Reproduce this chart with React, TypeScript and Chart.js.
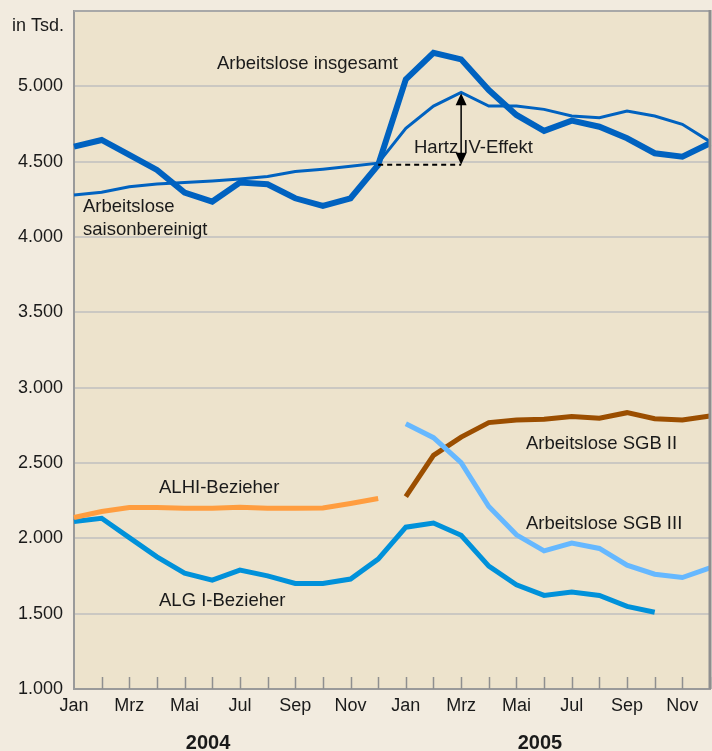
import React, { useEffect, useRef } from "react";
import { Chart, registerables } from "chart.js";

Chart.register(...registerables);

const months = ["Jan", "Feb", "Mrz", "Apr", "Mai", "Jun", "Jul", "Aug", "Sep", "Okt", "Nov", "Dez",
  "Jan", "Feb", "Mrz", "Apr", "Mai", "Jun", "Jul", "Aug", "Sep", "Okt", "Nov", "Dez"];
const years = ["2004", "2005"];
const yearCenters = [4.85, 16.85];

const insgesamt = [4600, 4644, 4545, 4445, 4295, 4235, 4361, 4350, 4257, 4206, 4257, 4478,
  5046, 5223, 5179, 4975, 4810, 4704, 4772, 4732, 4655, 4556, 4533, 4622];
const saisonbereinigt = [4279, 4297, 4334, 4352, 4361, 4372, 4385, 4401, 4434, 4450, 4470, 4490,
  4721, 4869, 4960, 4869, 4869, 4847, 4803, 4792, 4836, 4803, 4748, 4633];
const alhi = [2138, 2178, 2204, 2204, 2200, 2200, 2206, 2200, 2200, 2202, 2231, 2264,
  null, null, null, null, null, null, null, null, null, null, null, null];
const algI = [2112, 2133, 2005, 1877, 1769, 1723, 1789, 1751, 1701, 1701, 1730, 1862,
  2074, 2102, 2020, 1816, 1692, 1621, 1643, 1621, 1548, 1509, null, null];
const sgbII = [null, null, null, null, null, null, null, null, null, null, null, null,
  2277, 2551, 2672, 2768, 2785, 2790, 2808, 2797, 2834, 2794, 2785, 2812];
const sgbIII = [null, null, null, null, null, null, null, null, null, null, null, null,
  2761, 2668, 2503, 2211, 2023, 1917, 1968, 1933, 1822, 1762, 1740, 1804];

const hartzFrom = 11;
const hartzAt = 14;
const hartzBase = 4480;
const hartzTop = 4960;

const OUTER_BG = "#f2ebdf";
const PLOT_BG = "#ede3cc";
const TEXT = "#1a1a1a";
const FONT = '"Liberation Sans", Arial, Helvetica, sans-serif';

const overlay = {
  id: "overlay",
  beforeDraw(chart: any) {
    const { ctx, chartArea: a } = chart;
    ctx.save();
    ctx.fillStyle = PLOT_BG;
    ctx.fillRect(a.left, a.top, a.right - a.left, a.bottom - a.top);
    ctx.restore();
  },
  afterDraw(chart: any) {
    const { ctx, chartArea: a, scales } = chart;
    const xs = scales.x;
    const ys = scales.y;
    ctx.save();
    // inside tick marks
    ctx.strokeStyle = "#8f8f8f";
    ctx.lineWidth = 1.5;
    ctx.beginPath();
    for (let i = 1; i < months.length; i++) {
      const px = Math.round(xs.getPixelForValue(i)) + 0.5;
      ctx.moveTo(px, a.bottom);
      ctx.lineTo(px, a.bottom - 12);
    }
    ctx.stroke();
    // top & right border
    ctx.strokeStyle = "#a8a8a8";
    ctx.lineWidth = 2;
    ctx.beginPath();
    ctx.moveTo(a.left, a.top);
    ctx.lineTo(a.right, a.top);
    ctx.stroke();
    ctx.strokeStyle = "#8f8f8f";
    ctx.lineWidth = 3;
    ctx.beginPath();
    ctx.moveTo(a.right, a.top - 1);
    ctx.lineTo(a.right, a.bottom);
    ctx.stroke();

    // Hartz IV effect: dashed baseline and double arrow
    const yb = ys.getPixelForValue(hartzBase);
    const yt = ys.getPixelForValue(hartzTop);
    const x0 = xs.getPixelForValue(hartzFrom);
    const xa = xs.getPixelForValue(hartzAt);
    ctx.strokeStyle = "#000";
    ctx.lineWidth = 2;
    ctx.setLineDash([5, 4]);
    ctx.beginPath();
    ctx.moveTo(x0, yb);
    ctx.lineTo(xa, yb);
    ctx.stroke();
    ctx.setLineDash([]);
    ctx.lineWidth = 1.5;
    ctx.beginPath();
    ctx.moveTo(xa, yt + 10);
    ctx.lineTo(xa, yb - 10);
    ctx.stroke();
    ctx.fillStyle = "#000";
    ctx.beginPath();
    ctx.moveTo(xa, yt + 1);
    ctx.lineTo(xa - 5.5, yt + 13);
    ctx.lineTo(xa + 5.5, yt + 13);
    ctx.closePath();
    ctx.fill();
    ctx.beginPath();
    ctx.moveTo(xa, yb);
    ctx.lineTo(xa - 5.5, yb - 12);
    ctx.lineTo(xa + 5.5, yb - 12);
    ctx.closePath();
    ctx.fill();

    // annotation texts
    ctx.fillStyle = TEXT;
    ctx.font = `18.5px ${FONT}`;
    ctx.textAlign = "left";
    ctx.textBaseline = "alphabetic";
    ctx.fillText("Arbeitslose insgesamt", 217, 69);
    ctx.fillText("Arbeitslose", 83, 212);
    ctx.fillText("saisonbereinigt", 83, 235);
    ctx.fillText("Hartz IV-Effekt", 414, 153);
    ctx.fillText("ALHI-Bezieher", 159, 493);
    ctx.fillText("ALG I-Bezieher", 159, 606);
    ctx.fillText("Arbeitslose SGB II", 526, 449);
    ctx.fillText("Arbeitslose SGB III", 526, 529);
    ctx.font = `18px ${FONT}`;
    ctx.fillText("in Tsd.", 12, 31);

    // year labels
    ctx.font = `bold 20px ${FONT}`;
    ctx.textAlign = "center";
    years.forEach((yr, k) => {
      ctx.fillText(yr, xs.getPixelForValue(yearCenters[k]), 749);
    });
    ctx.restore();
  },
};

export default function App() {
  const ref = useRef<HTMLCanvasElement | null>(null);
  useEffect(() => {
    if (!ref.current) return;
    Chart.defaults.font.family = FONT;
    Chart.defaults.font.size = 18;
    Chart.defaults.color = TEXT;
    const line = (data: any[], color: string, width: number) => ({
      data,
      borderColor: color,
      backgroundColor: color,
      borderWidth: width,
      pointRadius: 0,
      pointHoverRadius: 0,
      tension: 0,
      spanGaps: false,
      fill: false,
    });
    const chart = new Chart(ref.current, {
      type: "line",
      data: {
        labels: months,
        datasets: [
          line(alhi, "#ff9d3f", 5),
          line(algI, "#0091da", 5),
          line(sgbIII, "#66b8ff", 5),
          line(sgbII, "#9b4e00", 5),
          line(insgesamt, "#0062c0", 6),
          line(saisonbereinigt, "#0062c0", 3),
        ] as any,
      },
      options: {
        animation: false,
        responsive: false,
        devicePixelRatio: 1,
        layout: { padding: { top: 11, right: 2, left: 0, bottom: 0 } },
        plugins: {
          legend: { display: false },
          tooltip: { enabled: false },
          title: { display: false },
        },
        scales: {
          x: {
            type: "category",
            offset: false,
            grid: { display: false, drawTicks: false },
            border: { display: true, color: "#9a9a9a", width: 2 },
            ticks: {
              autoSkip: false,
              maxRotation: 0,
              minRotation: 0,
              padding: 6,
              color: TEXT,
              font: { size: 18 },
              callback: (_v: any, i: number) => (i % 2 === 0 ? months[i] : ""),
            },
            afterFit: (s: any) => {
              s.height = 62;
              s.paddingLeft = 0;
              s.paddingRight = 0;
            },
          },
          y: {
            min: 1000,
            max: 5500,
            grid: { color: "#cbc8c2", lineWidth: 2, drawTicks: false },
            border: { display: true, color: "#9a9a9a", width: 2 },
            ticks: {
              stepSize: 500,
              padding: 11,
              color: TEXT,
              font: { size: 18 },
              callback: (v: any) =>
                v >= 5500 ? "" : Number(v).toLocaleString("de-DE").replace(",", "."),
            },
            afterFit: (s: any) => {
              s.width = 74;
              s.paddingTop = 0;
              s.paddingBottom = 0;
            },
          },
        },
      } as any,
      plugins: [overlay],
    });
    return () => chart.destroy();
  }, []);
  return (
    <div
      style={{
        position: "fixed",
        left: 0,
        top: 0,
        width: 712,
        height: 751,
        background: OUTER_BG,
      }}
    >
      <canvas ref={ref} width={712} height={751} style={{ display: "block" }} />
    </div>
  );
}
